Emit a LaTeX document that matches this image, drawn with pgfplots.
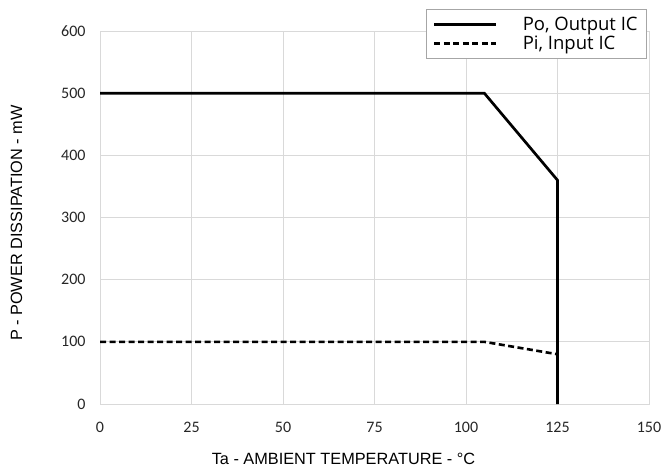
\documentclass[border=0pt]{standalone}
\usepackage{fontspec}
\setmainfont{Carlito}
\newfontfamily\labfont{Liberation Sans}
\newfontfamily\legfont{Open Sans}
\usepackage{pgfplots}
\pgfplotsset{compat=1.18}
\definecolor{gridc}{HTML}{D9D9D9}
\begin{document}
\begin{tikzpicture}[x=1pt,y=1pt]
\useasboundingbox (0,0) rectangle (663,471);
\begin{axis}[
  at={(100pt,67pt)}, anchor=south west,
  scale only axis, width=549pt, height=373pt,
  xmin=0, xmax=150, ymin=0, ymax=600,
  xtick={0,25,...,150}, ytick={0,100,...,600},
  grid=major, major grid style={gridc, line width=0.8pt},
  axis line style={gridc, line width=0.8pt},
  major tick length=0pt,
  /pgf/number format/assume math mode=true,
  tick label style={font=\fontsize{16}{18}\selectfont, color=black!85},
  xticklabel style={yshift=-15pt},
  yticklabel style={xshift=-11pt},
  xlabel={Ta - AMBIENT TEMPERATURE - °C},
  ylabel={P - POWER DISSIPATION - mW},
  xlabel style={font=\labfont\fontsize{16.3}{18}\selectfont, at={(axis description cs:0.4435,0)}, anchor=north, yshift=-46pt},
  ylabel style={font=\labfont\fontsize{16.3}{18}\selectfont, at={(axis description cs:-0.152,0.485)}, anchor=center},
  legend style={at={(axis description cs:0.9964,1.059)}, anchor=north east,
    draw=black!35, line width=0.8pt, font=\legfont\fontsize{18.5}{21}\selectfont,
    inner xsep=7pt, inner ysep=5.5pt, row sep=0pt, cells={anchor=west}},
  legend image code/.code={\draw[#1] (0pt,0pt) -- (62pt,0pt);},
  legend cell align=left,
]
\addplot[black, line width=2.7pt] coordinates {(0,500) (105,500) (125,360) (125,0)};
\addlegendentry{\hspace{23pt}Po, Output IC}
\addplot[black, line width=2.6pt, dash pattern=on 6pt off 3.5pt] coordinates {(0,100) (105,100) (125,80)};
\addlegendentry{\hspace{23pt}Pi, Input IC}
\end{axis}
\end{tikzpicture}
\end{document}
